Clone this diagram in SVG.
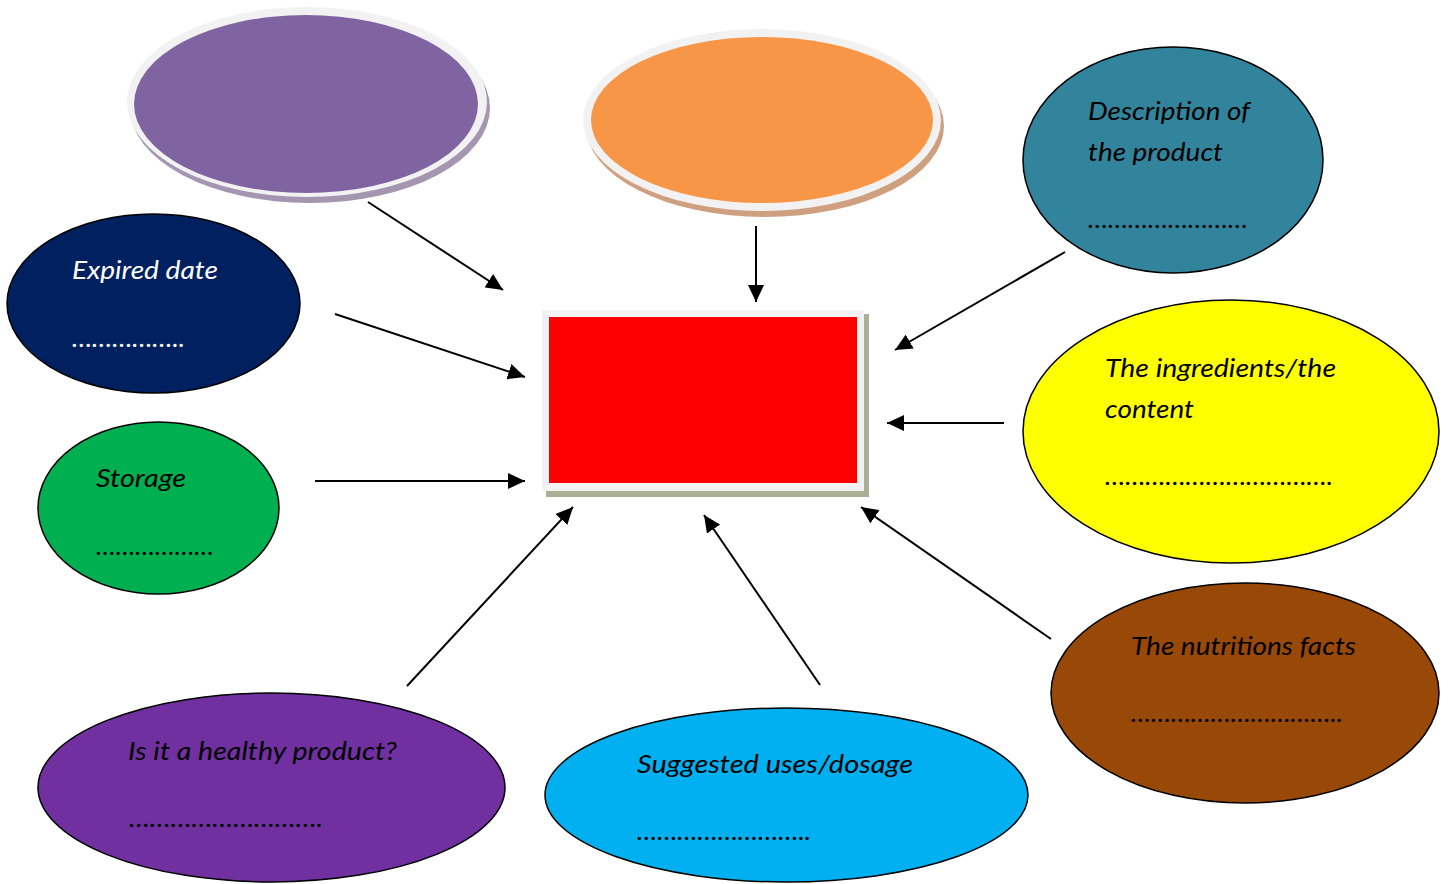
<svg xmlns="http://www.w3.org/2000/svg" width="1448" height="884" viewBox="0 0 1448 884">
<defs>
<marker id="ah" markerUnits="userSpaceOnUse" markerWidth="18" markerHeight="16" refX="17" refY="8" orient="auto">
<path d="M0,0 L17,8 L0,16 Z" fill="#000"/>
</marker>
<style>
.lbl{font-family:Lato,"Open Sans","Liberation Sans",sans-serif;font-style:italic;font-size:26px;fill:#000}
.wht{fill:#fff}
.node{stroke:#000;stroke-width:1.5}
.ring{fill:#f2f2f2}
.conn line{stroke:#000;stroke-width:2;marker-end:url(#ah)}
</style>
</defs>
<rect width="1448" height="884" fill="#fff"/>

<g id="top-purple">
<ellipse cx="310" cy="108" rx="180" ry="95" fill="#a495b0"/>
<ellipse class="ring" cx="307" cy="102" rx="180" ry="95"/>
<ellipse cx="306" cy="104" rx="172" ry="89" fill="#8064a2"/>
</g>

<g id="top-orange">
<ellipse cx="765" cy="126" rx="179" ry="91" fill="#cfa07f"/>
<ellipse class="ring" cx="762" cy="120" rx="179" ry="91"/>
<ellipse cx="762" cy="120" rx="171" ry="83" fill="#f79646"/>
</g>

<g id="center">
<rect x="546" y="314" width="323" height="183" fill="#a9b095"/>
<rect x="542" y="310" width="322" height="181" fill="#f2f2f2"/>
<rect x="549" y="317" width="308" height="166" fill="#ff0000"/>
</g>

<g id="expired">
<ellipse class="node" cx="153.5" cy="303.5" rx="146.5" ry="89.5" fill="#002060"/>
<text class="lbl wht" x="72" y="279" textLength="146" lengthAdjust="spacingAndGlyphs">Expired date</text>
<text class="lbl wht" x="72" y="347" textLength="113" lengthAdjust="spacingAndGlyphs">……………..</text>
</g>

<g id="description">
<ellipse class="node" cx="1173" cy="160" rx="150" ry="113" fill="#31849b"/>
<text class="lbl" x="1088" y="120" textLength="162" lengthAdjust="spacingAndGlyphs">Description of</text>
<text class="lbl" x="1088" y="161" textLength="135" lengthAdjust="spacingAndGlyphs">the product</text>
<text class="lbl" x="1088" y="228" textLength="160" lengthAdjust="spacingAndGlyphs">……………………</text>
</g>

<g id="ingredients">
<ellipse class="node" cx="1231" cy="431.5" rx="208" ry="131.5" fill="#ffff00"/>
<text class="lbl" x="1105" y="377" textLength="231" lengthAdjust="spacingAndGlyphs">The ingredients/the</text>
<text class="lbl" x="1105" y="418" textLength="89" lengthAdjust="spacingAndGlyphs">content</text>
<text class="lbl" x="1105" y="485" textLength="228" lengthAdjust="spacingAndGlyphs">…………………………….</text>
</g>

<g id="storage">
<ellipse class="node" cx="158.5" cy="508" rx="120.5" ry="86" fill="#00b050"/>
<text class="lbl" x="96" y="487" textLength="90" lengthAdjust="spacingAndGlyphs">Storage</text>
<text class="lbl" x="96" y="555" textLength="118" lengthAdjust="spacingAndGlyphs">………………</text>
</g>

<g id="healthy">
<ellipse class="node" cx="271.5" cy="787.5" rx="233.5" ry="94.5" fill="#7030a0"/>
<text class="lbl" x="128" y="760" textLength="269" lengthAdjust="spacingAndGlyphs">Is it a healthy product?</text>
<text class="lbl" x="129" y="827" textLength="194" lengthAdjust="spacingAndGlyphs">……………………….</text>
</g>

<g id="suggested">
<ellipse class="node" cx="786.5" cy="795" rx="241.5" ry="87" fill="#00b0f0"/>
<text class="lbl" x="637" y="773" textLength="276" lengthAdjust="spacingAndGlyphs">Suggested uses/dosage</text>
<text class="lbl" x="637" y="840" textLength="174" lengthAdjust="spacingAndGlyphs">……………………..</text>
</g>

<g id="nutrition">
<ellipse class="node" cx="1245" cy="693" rx="194" ry="110" fill="#984807"/>
<text class="lbl" x="1131" y="655" textLength="225" lengthAdjust="spacingAndGlyphs">The nutritions facts</text>
<text class="lbl" x="1131" y="722" textLength="212" lengthAdjust="spacingAndGlyphs">…………………………..</text>
</g>

<g id="connectors" class="conn">
<line x1="368" y1="202" x2="503" y2="290"/>
<line x1="335" y1="314" x2="525" y2="377"/>
<line x1="315" y1="481" x2="525" y2="481"/>
<line x1="756" y1="226" x2="756" y2="302"/>
<line x1="1065" y1="252" x2="895" y2="350"/>
<line x1="1004" y1="423" x2="887" y2="423"/>
<line x1="1051" y1="639" x2="861" y2="507"/>
<line x1="820" y1="685" x2="704" y2="515"/>
<line x1="407" y1="686" x2="573" y2="507"/>
</g>
</svg>
